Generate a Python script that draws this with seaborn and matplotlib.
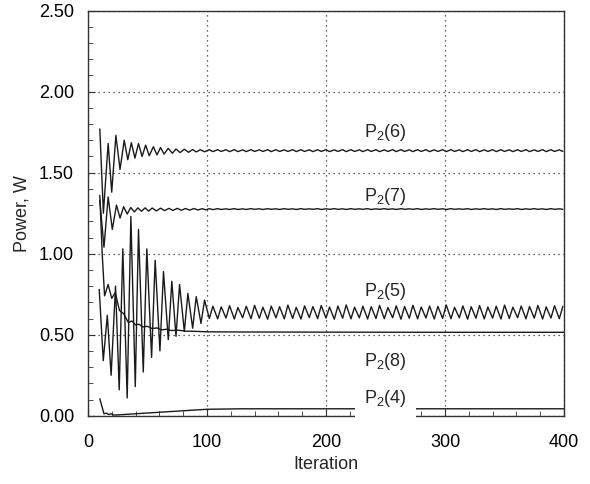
import numpy as np
import pandas as pd
import matplotlib
matplotlib.use("Agg")
import matplotlib.pyplot as plt
from matplotlib.ticker import MultipleLocator, FormatStrFormatter
import seaborn as sns

# ---- data (turning points of each curve) ----
series_names = ["P2(6)", "P2(7)", "P2(5)", "P2(8)", "P2(4)"]

# shared iteration grid of the settled ripple (period ~7 iterations)
tail_iter = [
    102, 105, 109, 112, 116, 119, 123, 126, 130, 133, 137, 140, 144, 147, 151, 154,
    158, 161, 165, 168, 172, 175, 179, 182, 186, 189, 193, 196, 200, 203, 207, 210,
    214, 217, 221, 224, 228, 231, 235, 238, 242, 245, 249, 252, 256, 259, 263, 266,
    270, 273, 277, 280, 284, 287, 291, 294, 298, 301, 305, 308, 312, 315, 319, 322,
    326, 329, 333, 336, 340, 343, 347, 350, 354, 357, 361, 364, 368, 371, 375, 378,
    382, 385, 389, 392, 396, 399,
]

p6_iter = [10, 13, 17, 20, 23.5, 27, 30.5, 33.5, 36.5, 39.5, 42.5, 45.5, 48.5, 51.5,
           55, 58, 61, 64, 67.5, 71, 74, 77.5, 81, 84.5, 88, 91, 94.5, 98]
p6_early = [1.77, 1.25, 1.68, 1.38, 1.73, 1.52, 1.70, 1.58, 1.685, 1.59, 1.68, 1.60,
            1.67, 1.605, 1.66, 1.61, 1.655, 1.615, 1.65, 1.62, 1.646, 1.624, 1.645,
            1.626, 1.643, 1.628, 1.642, 1.629]
p6_tail = [
    1.642, 1.630, 1.642, 1.631, 1.642, 1.630, 1.642, 1.630, 1.641, 1.630, 1.642, 1.631,
    1.641, 1.631, 1.642, 1.630, 1.642, 1.631, 1.641, 1.631, 1.642, 1.630, 1.642, 1.631,
    1.641, 1.630, 1.642, 1.631, 1.642, 1.630, 1.641, 1.631, 1.642, 1.630, 1.642, 1.631,
    1.641, 1.630, 1.642, 1.631, 1.642, 1.630, 1.641, 1.631, 1.642, 1.630, 1.642, 1.631,
    1.641, 1.630, 1.642, 1.631, 1.642, 1.630, 1.641, 1.631, 1.642, 1.630, 1.642, 1.631,
    1.641, 1.630, 1.642, 1.631, 1.642, 1.630, 1.641, 1.631, 1.642, 1.630, 1.642, 1.631,
    1.641, 1.630, 1.642, 1.631, 1.642, 1.630, 1.641, 1.631, 1.642, 1.630, 1.642, 1.631,
    1.641, 1.631,
]

p7_iter = [10, 13.5, 17, 20.5, 24, 27, 30, 33, 36, 39, 42, 45, 48, 51, 54, 57.5, 61,
           64.5, 68, 71.5, 75, 78.5, 82, 85.5, 89, 92.5, 96, 99]
p7_early = [1.33, 1.04, 1.35, 1.15, 1.30, 1.22, 1.29, 1.245, 1.285, 1.258, 1.283,
            1.262, 1.283, 1.263, 1.282, 1.264, 1.281, 1.266, 1.280, 1.267, 1.280,
            1.268, 1.279, 1.269, 1.279, 1.270, 1.278, 1.271]
p7_tail = [
    1.278, 1.272, 1.278, 1.273, 1.277, 1.273, 1.278, 1.273, 1.277, 1.273, 1.278, 1.274,
    1.277, 1.273, 1.278, 1.274, 1.277, 1.273, 1.278, 1.274, 1.277, 1.273, 1.278, 1.274,
    1.277, 1.274, 1.278, 1.273, 1.277, 1.274, 1.278, 1.274, 1.277, 1.273, 1.278, 1.274,
    1.277, 1.274, 1.278, 1.273, 1.277, 1.274, 1.278, 1.274, 1.277, 1.273, 1.278, 1.274,
    1.277, 1.274, 1.278, 1.273, 1.277, 1.274, 1.278, 1.274, 1.277, 1.273, 1.278, 1.274,
    1.277, 1.274, 1.278, 1.273, 1.277, 1.274, 1.278, 1.274, 1.277, 1.273, 1.278, 1.274,
    1.277, 1.274, 1.278, 1.273, 1.277, 1.274, 1.278, 1.274, 1.277, 1.273, 1.278, 1.274,
    1.277, 1.274,
]

p5_iter = [9.5, 12.9, 16.3, 19.5, 23.2, 26.3, 29.3, 33, 36.1, 39.8, 42.5, 46.5, 49.5,
           53.5, 56.5, 60.5, 63.5, 67.5, 70.5, 74, 77, 81, 84, 88, 91, 95, 98]
p5_early = [0.78, 0.34, 0.62, 0.25, 0.80, 0.16, 1.03, 0.11, 1.23, 0.18, 1.15, 0.27,
            1.03, 0.36, 0.96, 0.40, 0.89, 0.47, 0.83, 0.49, 0.81, 0.52, 0.755, 0.54,
            0.735, 0.57, 0.714]
p5_tail = [
    0.600, 0.676, 0.598, 0.672, 0.603, 0.679, 0.597, 0.668, 0.605, 0.676, 0.599, 0.681,
    0.602, 0.670, 0.596, 0.677, 0.604, 0.673, 0.598, 0.683, 0.601, 0.669, 0.597, 0.678,
    0.606, 0.674, 0.599, 0.680, 0.603, 0.671, 0.596, 0.677, 0.602, 0.684, 0.598, 0.670,
    0.604, 0.676, 0.597, 0.673, 0.600, 0.681, 0.599, 0.668, 0.605, 0.678, 0.596, 0.674,
    0.602, 0.682, 0.598, 0.671, 0.603, 0.677, 0.597, 0.675, 0.601, 0.684, 0.599, 0.669,
    0.604, 0.678, 0.596, 0.673, 0.602, 0.680, 0.598, 0.671, 0.603, 0.676, 0.597, 0.683,
    0.600, 0.670, 0.605, 0.677, 0.598, 0.674, 0.602, 0.681, 0.597, 0.672, 0.603, 0.679,
    0.599, 0.675,
]

p8_iter = [10, 12, 14, 17, 20, 23, 26.5, 30, 34, 37, 40, 43, 46, 50, 54, 58, 62, 66,
           70, 76, 82, 90, 100, 130, 200, 300, 400]
p8_vals = [1.36, 1.00, 0.74, 0.81, 0.725, 0.76, 0.65, 0.63, 0.575, 0.585, 0.56, 0.565,
           0.548, 0.552, 0.538, 0.542, 0.530, 0.534, 0.526, 0.528, 0.522, 0.521, 0.518,
           0.517, 0.516, 0.515, 0.515]

p4_iter = [10, 13.5, 15.5, 17.5, 19.5, 22, 100, 130, 400]
p4_vals = [0.105, 0.012, 0.016, 0.008, 0.012, 0.004, 0.040, 0.043, 0.043]

label_texts = [r"P$_\mathregular{2}$(6)", r"P$_\mathregular{2}$(7)",
               r"P$_\mathregular{2}$(5)", r"P$_\mathregular{2}$(8)",
               r"P$_\mathregular{2}$(4)"]

# ---- build long-form table ----
frames = [
    pd.DataFrame({"Iteration": p6_iter + tail_iter, "Power": p6_early + p6_tail, "Series": "P2(6)"}),
    pd.DataFrame({"Iteration": p7_iter + tail_iter, "Power": p7_early + p7_tail, "Series": "P2(7)"}),
    pd.DataFrame({"Iteration": p5_iter + tail_iter, "Power": p5_early + p5_tail, "Series": "P2(5)"}),
    pd.DataFrame({"Iteration": p8_iter, "Power": p8_vals, "Series": "P2(8)"}),
    pd.DataFrame({"Iteration": p4_iter, "Power": p4_vals, "Series": "P2(4)"}),
]
df = pd.concat(frames, ignore_index=True)

# ---- style ----
sns.set_theme(style="ticks")
plt.rcParams["font.family"] = ["Liberation Sans", "DejaVu Sans"]
plt.rcParams["mathtext.fontset"] = "custom"
plt.rcParams["mathtext.rm"] = "Liberation Sans"

fig = plt.figure(figsize=(5.9, 4.84), dpi=100)
ax = fig.add_axes([0.149, 0.141, 0.807, 0.837])

sns.lineplot(data=df, x="Iteration", y="Power", hue="Series", hue_order=series_names,
             palette=["#1a1a1a"] * len(series_names), estimator=None, sort=False,
             legend=False, linewidth=1.0, ax=ax)
for ln in ax.get_lines():
    ln.set_solid_joinstyle("round")

ax.set_xlim(0, 400)
ax.set_ylim(0, 2.5)
ax.xaxis.set_major_locator(MultipleLocator(100))
ax.xaxis.set_minor_locator(MultipleLocator(20))
ax.yaxis.set_major_locator(MultipleLocator(0.5))
ax.yaxis.set_minor_locator(MultipleLocator(0.1))
ax.yaxis.set_major_formatter(FormatStrFormatter("%.2f"))

ax.grid(True, which="major", color="#333333", linestyle=(0, (1, 3)), linewidth=0.9)
ax.tick_params(which="both", direction="in", colors="#333333", labelcolor="black",
               labelsize=13)
ax.tick_params(which="major", length=5, width=0.8)
ax.tick_params(which="minor", length=3.5, width=0.6)
ax.tick_params(axis="y", pad=10)
ax.tick_params(axis="x", pad=13)
for s in ax.spines.values():
    s.set_color("#333333")
    s.set_linewidth(1.0)

ax.set_xlabel("Iteration", fontsize=13, labelpad=4)
ax.set_ylabel("Power, W", fontsize=13, labelpad=6)

label_pos = [(250, 1.745), (250, 1.355), (250, 0.765), (250, 0.333), (250, 0.107)]
for txt, (lx, ly) in zip(label_texts, label_pos):
    kw = {}
    if txt.endswith("(4)"):
        kw["bbox"] = dict(facecolor="white", edgecolor="none", pad=6.5)
    ax.text(lx, ly, txt, ha="center", va="center", fontsize=13, **kw)

fig.savefig("out.png", dpi=100)
